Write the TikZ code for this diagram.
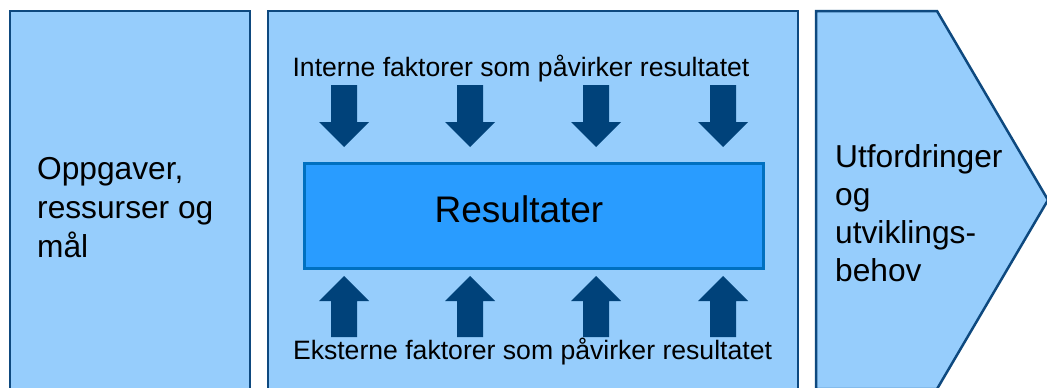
\documentclass[tikz,border=0pt]{standalone}
\usepackage{fontspec}
\setmainfont{Liberation Sans}
\definecolor{lightfill}{HTML}{96CDFC}
\definecolor{boxline}{HTML}{0E497F}
\definecolor{arrowcol}{HTML}{00427A}
\definecolor{resfill}{HTML}{299CFF}
\definecolor{resline}{HTML}{0070C0}
\tikzset{
  panel/.style={fill=lightfill, draw=boxline, line width=2.5pt, line join=miter},
  resbox/.style={fill=resfill, draw=resline, line width=3pt},
  bigarrow/.style={fill=arrowcol, draw=none},
  smalltxt/.style={font=\fontsize{26.6}{30}\selectfont, inner sep=0pt, anchor=base},
  sidetxt/.style={font=\fontsize{31.7}{38}\selectfont, inner sep=0pt, anchor=base west},
  restxt/.style={font=\fontsize{37}{42}\selectfont, inner sep=0pt, anchor=base}
}
\begin{document}
\begin{tikzpicture}[x=1pt,y=-1pt]
\useasboundingbox (0,0) rectangle (1047,388);
\clip (0,0) rectangle (1047,388);
\fill[white] (0,0) rectangle (1047,388);
% panels
\draw[panel] (10,11) rectangle (250,395);
\draw[panel] (268,11) rectangle (798,395);
\draw[panel] (816,11) -- (937,11) -- (1048,200) -- (937,389) -- (816,389) -- cycle;
% result box
\node[resbox, minimum width=459pt, minimum height=105pt, inner sep=0pt, anchor=north west] (res) at (303,162) {};
\node[restxt] (restext) at (519,222) {Resultater};
% arrows
\foreach \cx in {344,470,596,723} {
  \fill[bigarrow] (\cx-13,85) -- (\cx+13,85) -- (\cx+13,122) -- (\cx+25,122) -- (\cx,147) -- (\cx-25,122) -- (\cx-13,122) -- cycle;
  \fill[bigarrow] (\cx-13,337) -- (\cx+13,337) -- (\cx+13,301) -- (\cx+25,301) -- (\cx,276) -- (\cx-25,301) -- (\cx-13,301) -- cycle;
}
% texts
\node[smalltxt] (intern) at (521,76) {Interne faktorer som påvirker resultatet};
\node[smalltxt] (ekstern) at (532.5,359) {Eksterne faktorer som påvirker resultatet};
\node[sidetxt] (l1) at (37,179) {Oppgaver,};
\node[sidetxt] (l2) at (37,218) {ressurser og};
\node[sidetxt] (l3) at (37,257) {mål};
\node[sidetxt] (r1) at (835,167) {Utfordringer};
\node[sidetxt] (r2) at (835,205) {og};
\node[sidetxt] (r3) at (835,243) {utviklings-};
\node[sidetxt] (r4) at (835,281) {behov};
\end{tikzpicture}
\end{document}
